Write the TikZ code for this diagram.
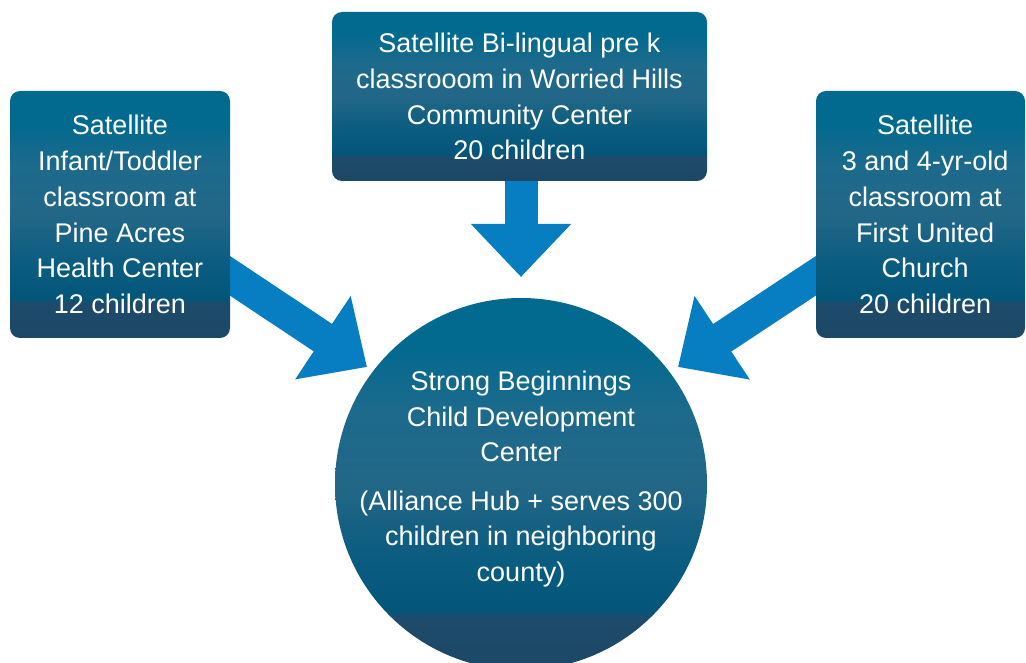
\documentclass[tikz,border=0pt]{standalone}
\usepackage{fontspec}
\setmainfont{Liberation Sans}
\usetikzlibrary{arrows.meta,calc,shapes.geometric,backgrounds}
\definecolor{arrowblue}{HTML}{077DC2}
\definecolor{gA}{HTML}{036A8F}
\definecolor{gB}{HTML}{1C6A8C}
\definecolor{gC}{HTML}{236787}
\definecolor{gD}{HTML}{0A5C80}
\definecolor{gE}{HTML}{035679}
\definecolor{gF}{HTML}{1E4B6B}
\definecolor{gG}{HTML}{1C4866}
\pgfdeclareverticalshading{tealband}{100bp}{%
  color(0bp)=(gG); color(25bp)=(gG); color(32bp)=(gF); color(33bp)=(gE);
  color(40bp)=(gD); color(50bp)=(gC); color(60bp)=(gB); color(68bp)=(gA);
  color(75bp)=(gA); color(100bp)=(gA)}
\tikzset{
  txt/.style={text=white, font=\fontsize{20.25pt}{26.8pt}\selectfont, align=center},
  satbox/.style={txt, rectangle, rounded corners=7.5pt, shading=tealband, inner sep=0pt},
  hub/.style={circle, shading=tealband, inner sep=0pt, minimum size=279pt},
  fatarrow/.style={draw=arrowblue, line width=24.75pt,
    -{Triangle[length=39.75pt, width=72.75pt, fill=arrowblue]}}
}
\begin{document}
\begin{tikzpicture}[x=0.75pt,y=-0.75pt]
\useasboundingbox (0,0) rectangle (1026,663);
% nodes
\node[satbox, minimum width=165pt, minimum height=185.25pt] (L) at (120,214.5)
  {Satellite\\Infant/Toddler\\classroom at\\Pine Acres\\Health Center\\12 children};
\node[satbox, minimum width=281.25pt, minimum height=126.75pt] (T) at (519.5,96.5)
  {Satellite Bi-lingual pre k\\classrooom in Worried Hills\\Community Center\\20 children};
\node[satbox, minimum width=156.75pt, minimum height=185.25pt] (R) at (920.5,214.5)
  {\hspace*{7pt}Satellite\\\hspace*{7pt}3 and 4-yr-old\\\hspace*{7pt}classroom at\\\hspace*{7pt}First United\\\hspace*{7pt}Church\\\hspace*{7pt}20 children};
\node[hub] (C) at (521,484) {};
\node[txt] (Ctext) at ($(C.center)+(0,-5)$)
  {Strong Beginnings\\Child Development\\Center\\[9.5pt]
   (Alliance Hub + serves 300\\children in neighboring\\county)};
% connectors
\coordinate (tipT) at (521,277);
\coordinate (tipL) at (367,367);
\coordinate (tipR) at (678,367);
\coordinate (startL) at ($(L.east)+(-21,47.5)$);
\coordinate (startR) at ($(R.west)+(21,47.5)$);
\begin{scope}[on background layer]
\draw[fatarrow] (startL) -- (tipL);
\draw[fatarrow] (startR) -- (tipR);
\draw[fatarrow] (T.south -| tipT) -- (tipT);
\end{scope}
\end{tikzpicture}
\end{document}
